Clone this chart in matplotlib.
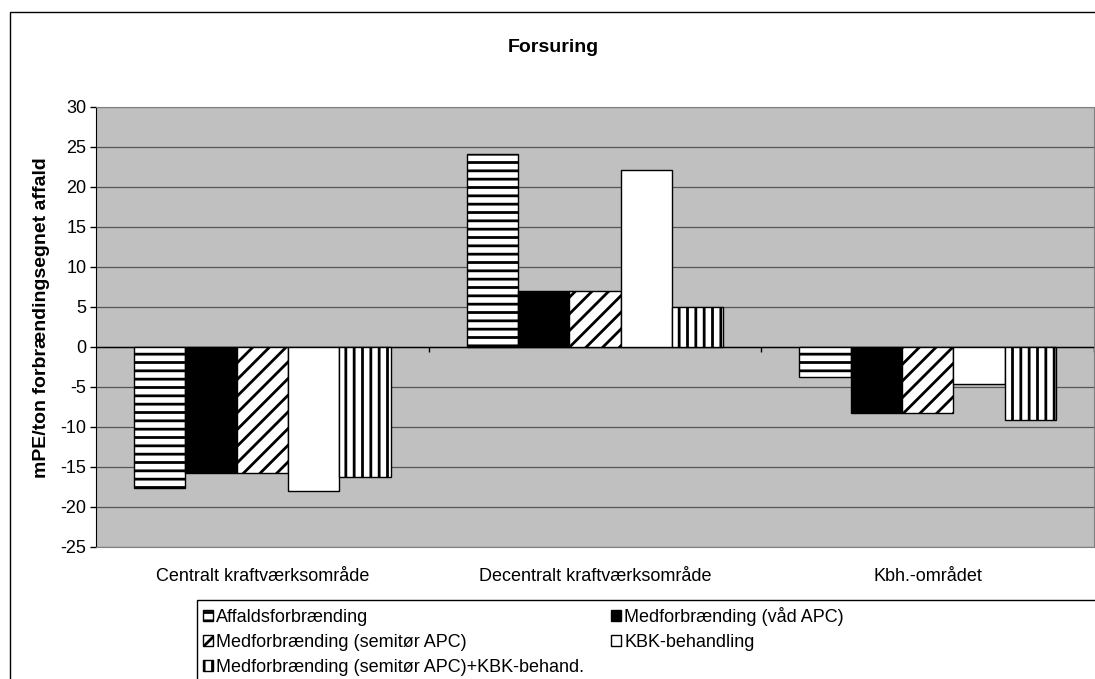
import matplotlib.pyplot as plt
import numpy as np
from matplotlib.patches import Rectangle, Patch

plt.rcParams['font.family'] = ['Liberation Sans', 'DejaVu Sans']
plt.rcParams['hatch.linewidth'] = 2.0
plt.rcParams['axes.unicode_minus'] = False

# data (mPE/ton)
categories = ["Centralt kraftværksområde", "Decentralt kraftværksområde", "Kbh.-området"]
series = ["Affaldsforbrænding",
          "Medforbrænding (våd APC)",
          "Medforbrænding (semitør APC)",
          "KBK-behandling",
          "Medforbrænding (semitør APC)+KBK-behand."]
affald = [-17.7, 24.1, -3.8]
vaad_apc = [-15.8, 7.0, -8.3]
semitor_apc = [-15.8, 7.0, -8.3]
kbk = [-18.0, 22.1, -4.6]
semitor_kbk = [-16.3, 5.0, -9.1]
values = [affald, vaad_apc, semitor_apc, kbk, semitor_kbk]
yticks = list(range(-25, 31, 5))

# bar looks
hatches = ['--', None, '//', None, '||']
faces = ['white', 'black', 'white', 'white', 'white']

fig = plt.figure(figsize=(10.95, 6.79), dpi=100)
ax = fig.add_axes([96/1095, 1-546.7/679, 998/1095, (546.7-106.7)/679])
ax.set_facecolor('#c0c0c0')

x = np.arange(len(categories))
width = 0.1543
for i, vals in enumerate(values):
    ax.bar(x + (i - 2) * width, vals, width, facecolor=faces[i], edgecolor='black',
           hatch=hatches[i], linewidth=1.0, zorder=3)

ax.set_xlim(-0.5, 2.5)
ax.set_ylim(-25, 30)
ax.set_yticks(yticks)
ax.yaxis.grid(True, color='#555555', linewidth=0.9)
ax.set_axisbelow(True)
ax.tick_params(axis='y', length=4, width=1, pad=3, labelsize=13)
ax.set_xticks(x, labels=categories)
ax.tick_params(axis='x', length=0, pad=15, labelsize=13)

for s in ['top', 'right', 'bottom']:
    ax.spines[s].set_color('#808080')
ax.spines['left'].set_color('black')

# zero axis with category boundary ticks
ax.axhline(0, color='black', linewidth=1, zorder=2)
ax.vlines([0.5, 1.5, 2.5], 0, -0.65, color='black', linewidth=1, clip_on=False, zorder=2)

ax.set_ylabel("mPE/ton forbrændingsegnet affald", fontsize=14, fontweight='bold')
ax.yaxis.set_label_coords(-0.046, 0.52)
fig.text(553/1095, 1-48/679, "Forsuring", ha='center', va='center', fontsize=14, fontweight='bold')

# outer border and legend box
fig.add_artist(Rectangle((10/1095, -0.1), 1.1, 1-12/679+0.1, transform=fig.transFigure,
                         fill=False, edgecolor='black', linewidth=1))
fig.add_artist(Rectangle((197/1095, -0.1), 1.0, 1-600/679+0.1, transform=fig.transFigure,
                         fill=False, edgecolor='black', linewidth=1))

handles = [Patch(facecolor=faces[i], edgecolor='black', hatch=hatches[i], linewidth=1) for i in range(5)]
order = [0, 2, 4, 1, 3]
fig.legend([handles[i] for i in order], [series[i] for i in order], ncol=2,
           loc='upper left', bbox_to_anchor=(203/1095, 1-606.5/679),
           frameon=False, fontsize=13, handlelength=0.55, handleheight=0.55,
           handletextpad=0.17, labelspacing=0.45, columnspacing=1.5, borderpad=0,
           borderaxespad=0)

fig.savefig("out.png", dpi=100)
